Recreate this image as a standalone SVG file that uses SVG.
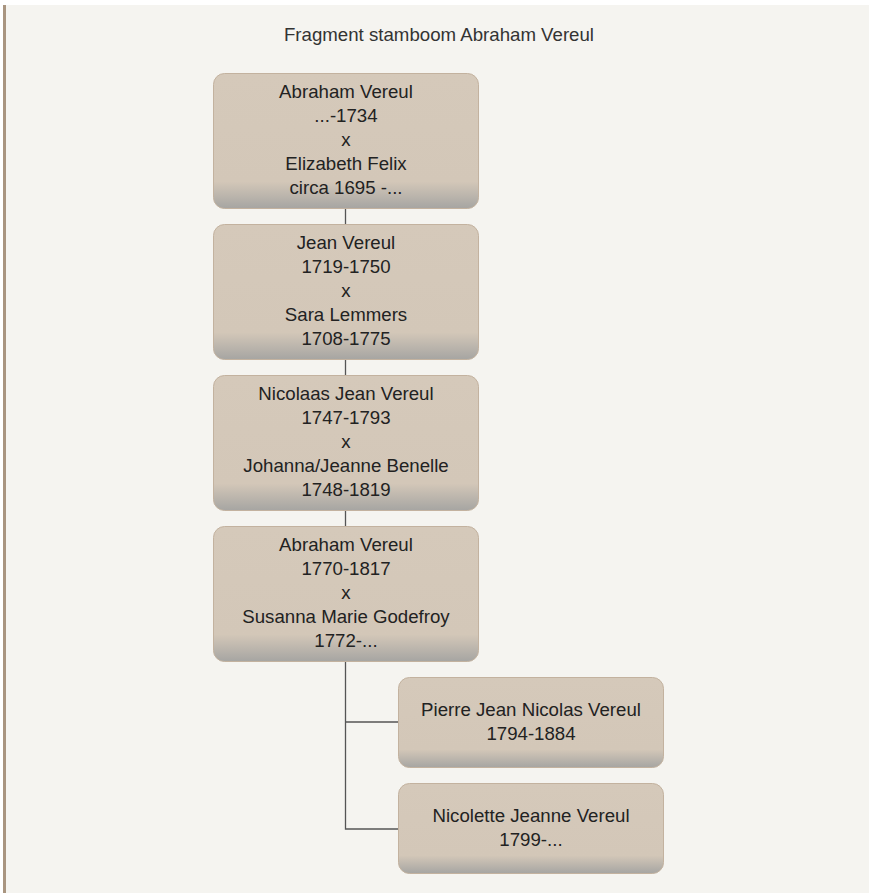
<svg xmlns="http://www.w3.org/2000/svg" width="869" height="893" viewBox="0 0 869 893">
<style>
.box{stroke:#c3b29f;stroke-width:1;fill:url(#g)}
.t{font-family:"Liberation Sans",Arial,sans-serif;font-size:18.67px;fill:#222;text-anchor:middle}
.title{fill:#333}
.c{stroke:#555;stroke-width:1.3;fill:none}
</style>
<defs>
<linearGradient id="g" x1="0" y1="0" x2="0" y2="1">
<stop offset="0" stop-color="#d5c9ba"/>
<stop offset="0.8" stop-color="#d3c7b8"/>
<stop offset="1" stop-color="#a6a5a2"/>
</linearGradient>
</defs>
<rect x="0" y="0" width="869" height="893" fill="#ffffff"/>
<rect x="3" y="5" width="866" height="888" fill="#f5f4f0"/>
<rect x="3" y="5" width="3" height="888" fill="#a99580"/>
<text class="t title" x="439" y="41">Fragment stamboom Abraham Vereul</text>
<g id="connectors">
<line class="c" x1="345.5" y1="208" x2="345.5" y2="224"/>
<line class="c" x1="345.5" y1="359" x2="345.5" y2="375"/>
<line class="c" x1="345.5" y1="510" x2="345.5" y2="526"/>
<polyline class="c" points="345.5,661 345.5,829 398,829"/>
<line class="c" x1="345.5" y1="722" x2="398" y2="722"/>
</g>
<g id="n1">
<rect class="box" x="213.5" y="73.5" width="265" height="135" rx="11"/>
<text class="t" x="346" y="98">Abraham Vereul</text>
<text class="t" x="346" y="122">...-1734</text>
<text class="t" x="346" y="146">x</text>
<text class="t" x="346" y="170">Elizabeth Felix</text>
<text class="t" x="346" y="194">circa 1695 -...</text>
</g>
<g id="n2">
<rect class="box" x="213.5" y="224.5" width="265" height="135" rx="11"/>
<text class="t" x="346" y="249">Jean Vereul</text>
<text class="t" x="346" y="273">1719-1750</text>
<text class="t" x="346" y="297">x</text>
<text class="t" x="346" y="321">Sara Lemmers</text>
<text class="t" x="346" y="345">1708-1775</text>
</g>
<g id="n3">
<rect class="box" x="213.5" y="375.5" width="265" height="135" rx="11"/>
<text class="t" x="346" y="400">Nicolaas Jean Vereul</text>
<text class="t" x="346" y="424">1747-1793</text>
<text class="t" x="346" y="448">x</text>
<text class="t" x="346" y="472">Johanna/Jeanne Benelle</text>
<text class="t" x="346" y="496">1748-1819</text>
</g>
<g id="n4">
<rect class="box" x="213.5" y="526.5" width="265" height="135" rx="11"/>
<text class="t" x="346" y="551">Abraham Vereul</text>
<text class="t" x="346" y="575">1770-1817</text>
<text class="t" x="346" y="599">x</text>
<text class="t" x="346" y="623">Susanna Marie Godefroy</text>
<text class="t" x="346" y="647">1772-...</text>
</g>
<g id="n5">
<rect class="box" x="398.5" y="677.5" width="265" height="90" rx="11"/>
<text class="t" x="531" y="716">Pierre Jean Nicolas Vereul</text>
<text class="t" x="531" y="740">1794-1884</text>
</g>
<g id="n6">
<rect class="box" x="398.5" y="783.5" width="265" height="90" rx="11"/>
<text class="t" x="531" y="822">Nicolette Jeanne Vereul</text>
<text class="t" x="531" y="846">1799-...</text>
</g>
</svg>
